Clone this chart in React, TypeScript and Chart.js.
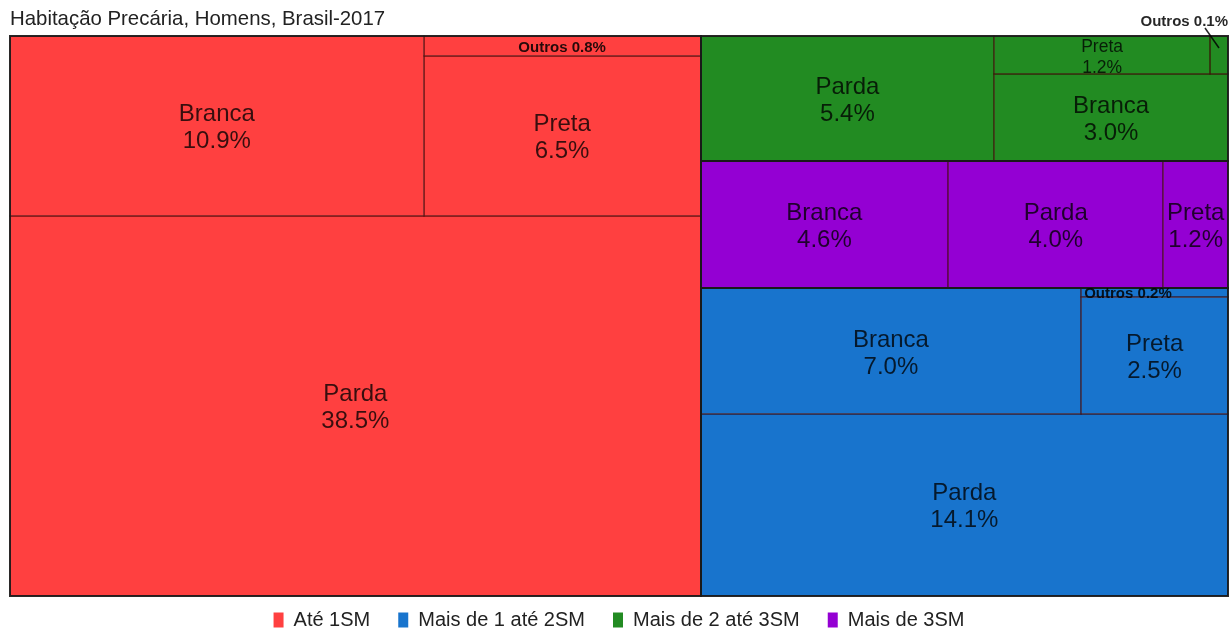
import React, { useEffect, useRef } from 'react';
import { Chart, registerables } from 'chart.js';

Chart.register(...registerables);

// ---------------- data ----------------
const TITLE = 'Habitação Precária, Homens, Brasil-2017';
const groups = ['Até 1SM', 'Mais de 1 até 2SM', 'Mais de 2 até 3SM', 'Mais de 3SM'];
const groupColors = ['#FF4040', '#1874CD', '#228B22', '#9400D3'];
const races = ['Parda', 'Branca', 'Preta', 'Outros'];
// values (% of total) in the order of `races`
const ate1SM = [38.5, 10.9, 6.5, 0.8];
const de1a2SM = [14.1, 7.0, 2.5, 0.2];
const de2a3SM = [5.4, 3.0, 1.2, 0.1];
const mais3SM = [4.0, 4.6, 1.2, 0];
const groupValues = [ate1SM, de1a2SM, de2a3SM, mais3SM];

// ---------------- layout (split structure only; sizes come from values) ----------------
type Node = { leaf: number } | { dir: 'h' | 'v'; kids: Node[] };
const toNode = (k: any): Node => (typeof k === 'number' ? { leaf: k } : k);
const H = (...kids: any[]): Node => ({ dir: 'h', kids: kids.map(toNode) });
const V = (...kids: any[]): Node => ({ dir: 'v', kids: kids.map(toNode) });

const topLayout = H(0, V(2, 3, 1));
const groupLayouts = [
  V(H(1, V(3, 2)), 0),
  V(H(1, V(3, 2)), 0),
  H(0, V(H(2, 3), 1)),
  H(1, 0, 2),
];

type Rect = { x0: number; y0: number; x1: number; y1: number };

function nodeSize(n: Node, vals: number[]): number {
  if ('leaf' in n) return vals[n.leaf] || 0;
  return n.kids.reduce((s, k) => s + nodeSize(k, vals), 0);
}

function layout(n: Node, vals: number[], r: Rect, out: { idx: number; r: Rect }[]) {
  if ('leaf' in n) {
    if ((vals[n.leaf] || 0) > 0) out.push({ idx: n.leaf, r });
    return;
  }
  const total = nodeSize(n, vals);
  let pos = n.dir === 'h' ? r.x0 : r.y0;
  const span = n.dir === 'h' ? r.x1 - r.x0 : r.y1 - r.y0;
  for (const k of n.kids) {
    const s = nodeSize(k, vals);
    if (s <= 0) continue;
    const d = (span * s) / total;
    const sub: Rect =
      n.dir === 'h'
        ? { x0: pos, y0: r.y0, x1: pos + d, y1: r.y1 }
        : { x0: r.x0, y0: pos, x1: r.x1, y1: pos + d };
    layout(k, vals, sub, out);
    pos += d;
  }
}

function computeCells() {
  const totals = groupValues.map((v) => v.reduce((a, b) => a + b, 0));
  const groupRects: { idx: number; r: Rect }[] = [];
  layout(topLayout, totals, { x0: 0, y0: 0, x1: 100, y1: 100 }, groupRects);
  const cells: { g: number; idx: number; r: Rect }[] = [];
  for (const gr of groupRects) {
    const out: { idx: number; r: Rect }[] = [];
    layout(groupLayouts[gr.idx], groupValues[gr.idx], gr.r, out);
    out.forEach((c) => cells.push({ g: gr.idx, idx: c.idx, r: c.r }));
  }
  return { groupRects, cells };
}

const FAM = '"Liberation Sans", Arial, sans-serif';
const TEXT_COLOR = 'rgba(0,0,0,0.78)';

// legend sits slightly higher than Chart.js' default placement
const legendShift = {
  id: 'legendShift',
  afterLayout(chart: any) {
    const lg = chart.legend;
    if (lg) {
      lg.top -= 14;
      lg.bottom -= 14;
    }
  },
};

const treemapPlugin = {
  id: 'treemapCells',
  afterDraw(chart: any) {
    const { ctx, chartArea } = chart;
    const xs = chart.scales.x;
    const ys = chart.scales.y;
    const toPx = (r: Rect) => {
      const X0 = xs.getPixelForValue(r.x0);
      const X1 = xs.getPixelForValue(r.x1);
      const Y0 = ys.getPixelForValue(r.y0);
      const Y1 = ys.getPixelForValue(r.y1);
      return { X0: Math.min(X0, X1), X1: Math.max(X0, X1), Y0: Math.min(Y0, Y1), Y1: Math.max(Y0, Y1) };
    };
    const { groupRects, cells } = computeCells();
    ctx.save();
    // fills
    for (const c of cells) {
      const p = toPx(c.r);
      ctx.fillStyle = groupColors[c.g];
      ctx.fillRect(p.X0, p.Y0, p.X1 - p.X0, p.Y1 - p.Y0);
    }
    // inner borders
    ctx.lineWidth = 1.5;
    ctx.strokeStyle = 'rgba(60,0,0,0.45)';
    for (const c of cells) {
      const p = toPx(c.r);
      ctx.strokeRect(Math.round(p.X0), Math.round(p.Y0), Math.round(p.X1) - Math.round(p.X0), Math.round(p.Y1) - Math.round(p.Y0));
    }
    // group borders
    ctx.lineWidth = 2;
    ctx.strokeStyle = 'rgba(25,25,25,0.9)';
    for (const g of groupRects) {
      const p = toPx(g.r);
      ctx.strokeRect(Math.round(p.X0), Math.round(p.Y0), Math.round(p.X1) - Math.round(p.X0), Math.round(p.Y1) - Math.round(p.Y0));
    }
    // labels
    ctx.textBaseline = 'middle';
    for (const c of cells) {
      const p = toPx(c.r);
      const w = p.X1 - p.X0, h = p.Y1 - p.Y0;
      const cx = (p.X0 + p.X1) / 2, cy = (p.Y0 + p.Y1) / 2;
      const val = groupValues[c.g][c.idx];
      const name = races[c.idx];
      const pct = val.toFixed(1) + '%';
      ctx.textAlign = 'center';
      ctx.fillStyle = TEXT_COLOR;
      ctx.font = `24px ${FAM}`;
      let mw = Math.max(ctx.measureText(name).width, ctx.measureText(pct).width);
      if (h >= 60 && mw <= w) {
        ctx.fillText(name, cx, cy - 11);
        ctx.fillText(pct, cx, cy + 16);
        continue;
      }
      ctx.font = `17.5px ${FAM}`;
      mw = Math.max(ctx.measureText(name).width, ctx.measureText(pct).width);
      if (h >= 30 && mw <= w) {
        ctx.fillText(name, cx, cy - 8);
        ctx.fillText(pct, cx, cy + 13);
        continue;
      }
      ctx.font = `bold 15px ${FAM}`;
      const txt = `${name} ${pct}`;
      const tw = ctx.measureText(txt).width;
      ctx.fillStyle = 'rgba(0,0,0,0.85)';
      if (tw <= w) {
        if (h >= 16) {
          ctx.fillText(txt, cx, cy + 2);
        } else {
          ctx.textAlign = 'left';
          ctx.fillText(txt, p.X0 + 3, cy + 1);
        }
      } else {
        // callout above the plot area
        ctx.textAlign = 'right';
        ctx.fillText(txt, chartArea.right, chartArea.top - 14);
        ctx.beginPath();
        ctx.lineWidth = 1.5;
        ctx.strokeStyle = 'rgba(0,0,0,0.85)';
        ctx.moveTo(cx - 14, chartArea.top - 8);
        ctx.lineTo(cx, p.Y0 + 12);
        ctx.stroke();
      }
    }
    ctx.restore();
  },
};

export default function App() {
  const ref = useRef<HTMLCanvasElement>(null);
  useEffect(() => {
    if (!ref.current) return;
    const chart = new Chart(ref.current, {
      type: 'scatter',
      data: {
        datasets: groups.map((g, i) => ({
          label: g,
          data: [],
          backgroundColor: groupColors[i],
          borderColor: groupColors[i],
          borderWidth: 0,
        })),
      },
      options: {
        animation: false,
        responsive: false,
        events: [],
        layout: { padding: { left: 10, right: 3, top: 0, bottom: 0 } },
        scales: {
          x: { type: 'linear', min: 0, max: 100, display: false },
          y: { type: 'linear', min: 0, max: 100, reverse: true, display: false },
        },
        plugins: {
          title: {
            display: true,
            text: TITLE,
            align: 'start',
            color: '#222',
            font: { family: FAM, size: 20.4, weight: 'normal', lineHeight: 1.2 },
            padding: { top: 7, bottom: 4.5 },
          },
          legend: {
            display: true,
            position: 'bottom',
            labels: {
              color: '#222',
              font: { family: FAM, size: 20 },
              boxWidth: 10,
              boxHeight: 15,
              padding: 28,
            },
          },
          tooltip: { enabled: false },
        },
      } as any,
      plugins: [legendShift, treemapPlugin],
    });
    return () => chart.destroy();
  }, []);
  return (
    <div style={{ position: 'fixed', left: 0, top: 0, width: 1231, height: 631, overflow: 'hidden', background: '#fff' }}>
      <canvas ref={ref} width={1231} height={654} style={{ display: 'block', width: 1231, height: 654 }} />
    </div>
  );
}
